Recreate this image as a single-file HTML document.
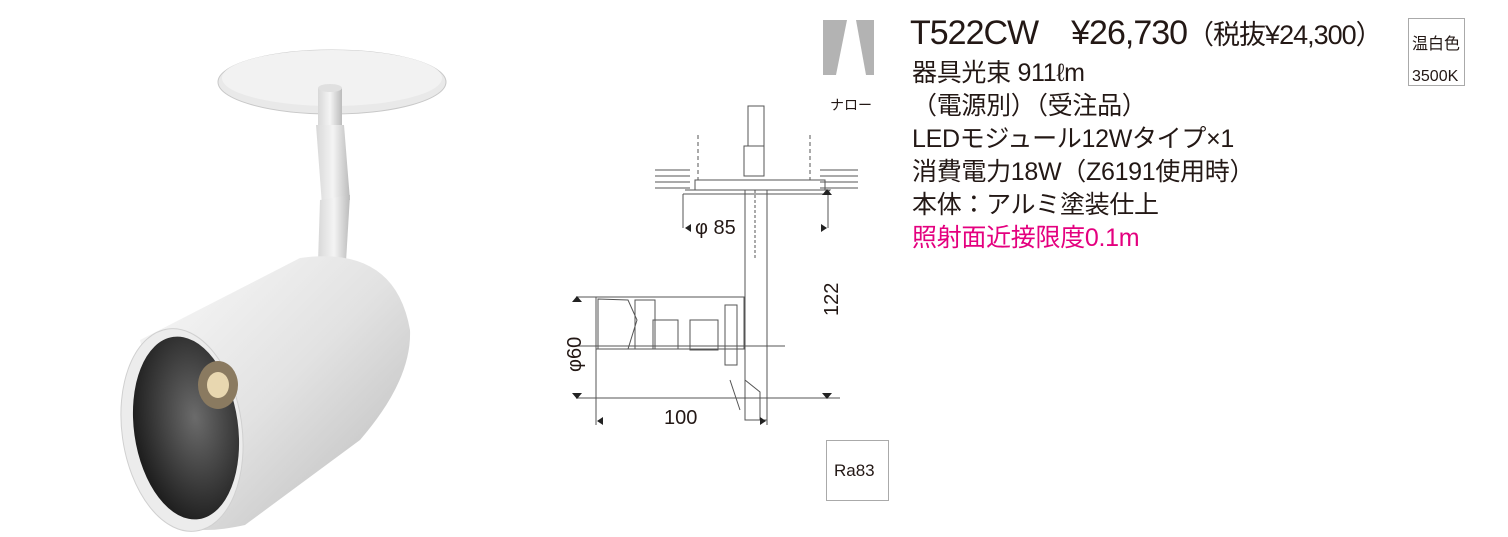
<!DOCTYPE html>
<html><head><meta charset="utf-8"><style>
body{margin:0;background:#fff;width:1508px;height:537px;overflow:hidden;position:relative;font-family:"Liberation Sans","Noto Sans CJK JP",sans-serif;color:#231815}
.t{position:absolute;white-space:nowrap;line-height:1}
</style></head><body>
<svg width="1508" height="537" style="position:absolute;left:0;top:0">
<defs>
<linearGradient id="cyl" x1="0" y1="0" x2="1" y2="1"><stop offset="0" stop-color="#fafafa"/><stop offset="0.5" stop-color="#e2e2e2"/><stop offset="1" stop-color="#b8b8b8"/></linearGradient>
<linearGradient id="rod" x1="0" x2="1"><stop offset="0" stop-color="#d8d8d8"/><stop offset="0.5" stop-color="#f4f4f4"/><stop offset="1" stop-color="#bbb"/></linearGradient>
<radialGradient id="in" cx="0.6" cy="0.45" r="0.6"><stop offset="0" stop-color="#6b6b6b"/><stop offset="1" stop-color="#1e1e1e"/></radialGradient>
</defs>
<ellipse cx="332" cy="82" rx="114" ry="32" fill="#e9e9e9" stroke="#c8c8c8"/>
<ellipse cx="332" cy="78" rx="110" ry="28" fill="#f2f2f2"/>
<rect x="318" y="88" width="24" height="40" fill="url(#rod)"/>
<ellipse cx="330" cy="88" rx="12" ry="4" fill="#e0e0e0"/>
<polygon points="316,125 344,125 350,200 322,205" fill="url(#rod)"/>
<polygon points="320,200 350,195 346,262 318,262" fill="url(#rod)"/>
<path d="M140,340 L300,258 Q395,245 410,330 Q412,380 360,440 L245,525 Q200,535 180,525 Z" fill="url(#cyl)"/>
<ellipse cx="182" cy="430" rx="60" ry="102" transform="rotate(-8 182 430)" fill="#ececec" stroke="#d0d0d0"/>
<ellipse cx="186" cy="428" rx="52" ry="92" transform="rotate(-8 186 428)" fill="url(#in)"/>
<ellipse cx="218" cy="385" rx="20" ry="24" fill="#8a7a60"/>
<ellipse cx="218" cy="385" rx="11" ry="13" fill="#e8d7b0"/>
<rect x="823" y="20" width="51" height="55" fill="#b3b3b3"/>
<polygon points="847,20 856,20 866,75 836,75" fill="#fff"/>
<rect x="826.5" y="440.5" width="62" height="60" fill="#fff" stroke="#aaa"/>
<rect x="1408.5" y="18.5" width="56" height="67" fill="#fff" stroke="#aaa"/>
<g stroke="#555" stroke-width="1" fill="none">
<rect x="748" y="106" width="16" height="40"/>
<rect x="744" y="146" width="20" height="30"/>
<rect x="745" y="190" width="22" height="230"/>
<line x1="755" y1="190" x2="755" y2="260" stroke-dasharray="3,2"/>
<line x1="655" y1="170" x2="690" y2="170"/><line x1="655" y1="176" x2="690" y2="176"/><line x1="655" y1="182" x2="690" y2="182"/><line x1="655" y1="188" x2="690" y2="188"/>
<line x1="820" y1="170" x2="858" y2="170"/><line x1="820" y1="176" x2="858" y2="176"/><line x1="820" y1="182" x2="858" y2="182"/><line x1="820" y1="188" x2="858" y2="188"/>
<line x1="698" y1="135" x2="698" y2="180" stroke-dasharray="4,3"/>
<line x1="810" y1="135" x2="810" y2="180" stroke-dasharray="4,3"/>
<rect x="695" y="180" width="130" height="10"/>
<polyline points="685,190 830,190 826,194 683,194"/>
<line x1="683" y1="194" x2="683" y2="228"/><line x1="828" y1="194" x2="828" y2="228"/>
<rect x="596" y="297" width="148" height="52"/>
<polygon points="598,299 628,300 637,320 628,349 598,349"/>
<rect x="635" y="300" width="20" height="49"/>
<rect x="653" y="320" width="25" height="29"/>
<rect x="690" y="320" width="28" height="30"/>
<rect x="725" y="305" width="12" height="60"/>
<polyline points="745,350 745,380 760,392 760,420"/>
<line x1="730" y1="380" x2="740" y2="410"/>
<line x1="576" y1="297" x2="600" y2="297"/>
<line x1="576" y1="398" x2="840" y2="398"/>
<line x1="576" y1="346" x2="785" y2="346"/>
<line x1="596" y1="297" x2="596" y2="425"/>
<line x1="767" y1="400" x2="767" y2="425"/>
</g>
<g fill="#222">
<polygon points="572,302 582,302 577,296"/><polygon points="572,393 582,393 577,399"/>
<polygon points="822,195 832,195 827,189"/><polygon points="822,393 832,393 827,399"/>
<polygon points="685,228 691,224 691,232"/><polygon points="827,228 821,224 821,232"/>
<polygon points="597,421 603,417 603,425"/><polygon points="766,421 760,417 760,425"/>
</g>
</svg>
<div class="t" style="left:695px;top:218px;font-size:20px">φ 85</div>
<div class="t" style="left:565px;top:372px;font-size:20px;transform:rotate(-90deg);transform-origin:left top">φ60</div>
<div class="t" style="left:822px;top:316px;font-size:20px;transform:rotate(-90deg);transform-origin:left top">122</div>
<div class="t" style="left:664px;top:408px;font-size:20px">100</div>
<div class="t" style="left:834px;top:462px;font-size:17px">Ra83</div>
<div class="t" style="left:830px;top:98px;font-size:14px">ナロー</div>
<div class="t" style="left:1412px;top:29px;font-size:16px;line-height:32px">温白色<br>3500K</div>
<div class="t" style="left:910px;top:16px;font-size:34px;letter-spacing:-1px">T522CW　¥26,730<span style="font-size:27px">（税抜¥24,300）</span></div>
<div class="t" style="left:912px;top:57px;font-size:25px;line-height:33px;letter-spacing:-0.3px">器具光束 911ℓm<br>（電源別）（受注品）<br>LEDモジュール12Wタイプ×1<br>消費電力18W（Z6191使用時）<br>本体：アルミ塗装仕上<br><span style="color:#e4007f">照射面近接限度0.1m</span></div>
</body></html>
